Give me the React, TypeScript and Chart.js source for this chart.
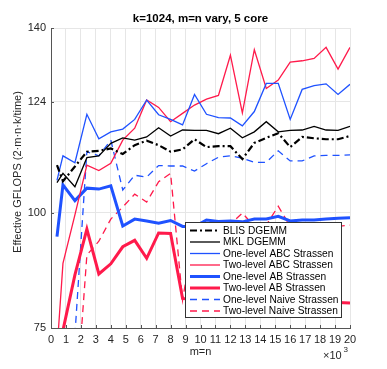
import React, { useEffect, useRef } from 'react';
import { Chart, registerables } from 'chart.js';
Chart.register(...registerables);

const FONT = '"Liberation Sans", Arial, Helvetica, sans-serif';
const TXT = '#262626';
const BLUE = '#1f52ff';
const RED = '#ff1a4b';

const title = 'k=1024, m=n vary, 5 core';
const yLabel = 'Effective GFLOPS (2·m·n·k/time)';
const xLabel = 'm=n';

// m=n in thousands
const mVals = [0.4, 0.8, 1.6, 2.4, 3.2, 4.0, 4.8, 5.6, 6.4, 7.2, 8.0, 8.8, 9.6, 10.4, 11.2, 12.0, 12.8, 13.6, 14.4, 15.2, 16.0, 16.8, 17.6, 18.4, 19.2, 20.0];
const yTicks = [75, 100, 124, 140];
const xTicks = [0, 1, 2, 3, 4, 5, 6, 7, 8, 9, 10, 11, 12, 13, 14, 15, 16, 17, 18, 19, 20];

const blisDgemm = [110.3, 106.8, 110.0, 113.2, 113.4, 113.9, 112.7, 114.6, 115.6, 114.6, 113.2, 113.7, 115.9, 114.2, 114.4, 114.4, 111.6, 115.1, 116.2, 117.2, 114.2, 116.4, 116.1, 115.9, 115.9, 116.6];
const mklDgemm = [106.5, 108.5, 105.6, 111.9, 112.3, 115.0, 116.2, 115.7, 116.4, 118.4, 116.6, 117.9, 117.8, 117.8, 117.1, 118.3, 116.2, 117.5, 119.7, 117.5, 117.8, 117.9, 118.7, 117.9, 117.8, 118.7];
const oneAbc = [107.0, 112.3, 110.8, 121.3, 116.0, 117.5, 118.1, 120.2, 124.4, 121.2, 120.2, 119.0, 125.6, 121.3, 120.6, 120.5, 118.8, 121.9, 128.0, 128.0, 120.2, 126.7, 127.5, 127.9, 125.6, 127.8];
const twoAbc = [70.0, 89.0, 99.5, 110.3, 109.1, 110.7, 115.7, 118.3, 124.4, 122.8, 119.7, 121.5, 123.3, 124.6, 125.4, 134.1, 121.6, 135.3, 126.9, 128.7, 132.6, 132.9, 133.4, 135.8, 131.1, 135.8];
const oneAb = [94.8, 106.0, 102.6, 105.3, 105.1, 105.8, 97.1, 98.6, 98.2, 97.7, 98.3, 97.0, 97.0, 98.4, 98.1, 98.2, 98.0, 98.6, 98.6, 99.2, 98.2, 98.4, 98.4, 98.6, 98.8, 98.9];
const twoAb = [65.0, 74.5, 86.5, 96.4, 86.7, 88.9, 92.6, 94.0, 90.1, 95.6, 95.5, 81.4, 81.1, 80.6, 80.6, 80.6, 80.6, 80.6, 80.6, 80.6, 80.6, 80.6, 80.6, 80.6, 80.5, 80.4];
const oneNaive = [40.0, 45.0, 73.5, 113.2, 112.3, 115.7, 104.9, 108.1, 107.7, 110.2, 110.1, 110.1, 109.0, 110.6, 112.0, 112.3, 111.8, 110.9, 110.9, 113.4, 111.2, 111.2, 112.3, 112.4, 112.4, 112.5];
const twoNaive = [40.0, 45.0, 55.0, 90.8, 93.8, 98.6, 101.2, 104.0, 102.3, 106.7, 108.5, 81.0, 96.5, 96.5, 96.8, 97.5, 99.9, 97.0, 97.3, 101.4, 97.0, 96.8, 97.0, 96.8, 97.0, 97.3];

const seriesLabels = [
  'BLIS DGEMM',
  'MKL DGEMM',
  'One-level ABC Strassen',
  'Two-level ABC Strassen',
  'One-level AB Strassen',
  'Two-level AB Strassen',
  'One-level Naive Strassen',
  'Two-level Naive Strassen',
];

export default function App() {
  const ref = useRef<HTMLCanvasElement>(null);
  useEffect(() => {
    const canvas = ref.current!;
    const pts = (arr: number[]) => mVals.map((x, i) => ({ x, y: arr[i] }));
    const styles = [
      { data: blisDgemm, color: '#000', width: 2.2, dash: [7, 3, 2, 3] },
      { data: mklDgemm, color: '#000', width: 1.3, dash: [] },
      { data: oneAbc, color: BLUE, width: 1.3, dash: [] },
      { data: twoAbc, color: RED, width: 1.3, dash: [] },
      { data: oneAb, color: BLUE, width: 3, dash: [] },
      { data: twoAb, color: RED, width: 3, dash: [] },
      { data: oneNaive, color: BLUE, width: 1.3, dash: [7, 5] },
      { data: twoNaive, color: RED, width: 1.3, dash: [7, 5] },
    ];
    const overlay = {
      id: 'overlay',
      afterDraw(chart: any) {
        const c = chart.ctx as CanvasRenderingContext2D;
        const xs = chart.scales.x;
        const ys = chart.scales.y;
        const area = chart.chartArea;
        c.save();
        // inward tick marks
        c.strokeStyle = '#555';
        c.lineWidth = 1;
        c.setLineDash([]);
        c.beginPath();
        for (const v of xTicks) {
          const px = Math.round(xs.getPixelForValue(v)) + 0.5;
          c.moveTo(px, area.bottom);
          c.lineTo(px, area.bottom - 3);
        }
        for (const v of yTicks) {
          const py = Math.round(ys.getPixelForValue(v)) + 0.5;
          c.moveTo(area.left, py);
          c.lineTo(area.left + 3, py);
        }
        c.stroke();
        // title
        c.fillStyle = '#000';
        c.font = `bold 11.5px ${FONT}`;
        c.textAlign = 'center';
        c.textBaseline = 'middle';
        c.fillText(title, (area.left + area.right) / 2, 19);
        // axis labels
        c.fillStyle = TXT;
        c.font = `11px ${FONT}`;
        c.fillText(xLabel, (area.left + area.right) / 2, 352);
        c.save();
        c.translate(18, 172);
        c.rotate(-Math.PI / 2);
        c.fillText(yLabel, 0, 0);
        c.restore();
        // x10^3
        c.textAlign = 'left';
        c.font = `11px ${FONT}`;
        c.fillText('×10', 323, 356);
        c.font = `8px ${FONT}`;
        c.fillText('3', 343.5, 350);
        // legend
        const lx = 185.5, ly = 222.5, lw = 156, lh = 95;
        c.fillStyle = '#fff';
        c.fillRect(lx, ly, lw, lh);
        c.strokeStyle = '#333';
        c.lineWidth = 1;
        c.strokeRect(lx, ly, lw, lh);
        c.font = `10.2px ${FONT}`;
        c.textBaseline = 'middle';
        styles.forEach((s, i) => {
          const cy = 230.5 + i * 11.5;
          c.strokeStyle = s.color;
          c.lineWidth = s.width;
          c.setLineDash(s.dash);
          c.beginPath();
          c.moveTo(190, cy);
          c.lineTo(220, cy);
          c.stroke();
          c.setLineDash([]);
          c.fillStyle = '#000';
          c.fillText(seriesLabels[i], 223, cy + 0.5);
        });
        c.restore();
      },
    };
    const chart = new Chart(canvas, {
      type: 'line',
      data: {
        datasets: styles.map((s, i) => ({
          label: seriesLabels[i],
          data: pts(s.data),
          borderColor: s.color,
          backgroundColor: s.color,
          borderWidth: s.width,
          borderDash: s.dash,
          pointRadius: 0,
          tension: 0,
          fill: false,
        })),
      },
      options: {
        responsive: false,
        animation: false,
        devicePixelRatio: 1,
        layout: { padding: { left: 0, right: 37, top: 28, bottom: 0 } },
        plugins: { legend: { display: false }, title: { display: false }, tooltip: { enabled: false } },
        scales: {
          x: {
            type: 'linear',
            min: 0,
            max: 20,
            afterFit(s: any) { s.height = 41; },
            afterBuildTicks(s: any) { s.ticks = xTicks.map((v) => ({ value: v })); },
            ticks: { font: { family: FONT, size: 11 }, color: TXT, padding: 5, maxRotation: 0, minRotation: 0, autoSkip: false },
            grid: { color: '#e6e6e6', drawTicks: false },
            border: { color: '#555', width: 1 },
          },
          y: {
            type: 'linear',
            min: 75,
            max: 140,
            afterFit(s: any) { s.width = 51; },
            afterBuildTicks(s: any) { s.ticks = yTicks.map((v) => ({ value: v })); },
            ticks: { font: { family: FONT, size: 11 }, color: TXT, padding: 5 },
            grid: { color: '#e6e6e6', drawTicks: false },
            border: { color: '#555', width: 1 },
          },
        },
      },
      plugins: [overlay],
    });
    return () => chart.destroy();
  }, []);
  return (
    <div style={{ position: 'fixed', left: 0, top: 0, width: 387, height: 369, background: '#fff' }}>
      <canvas ref={ref} width={387} height={369} style={{ display: 'block', width: 387, height: 369 }} />
    </div>
  );
}
